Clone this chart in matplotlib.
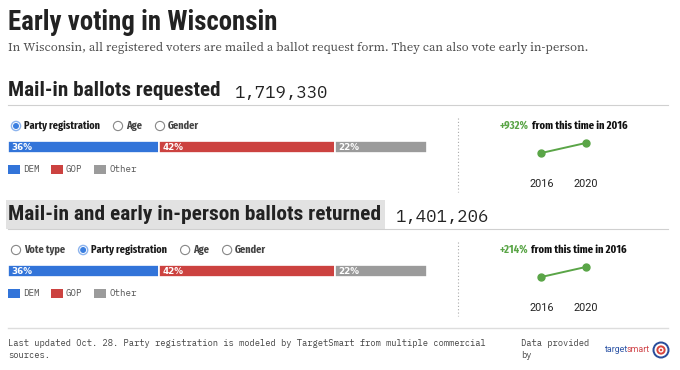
import matplotlib
matplotlib.use('Agg')
import matplotlib.pyplot as plt
from matplotlib.patches import Rectangle, Circle

# 数据
parties = ['DEM', 'GOP', 'Other']
party_colors = ['#3274d9', '#cc4240', '#9b9b9b']
requested_share = [36, 42, 22]
returned_share = [36, 42, 22]
requested_total = '1,719,330'
returned_total = '1,401,206'
spark_years = [2016, 2020]
requested_spark = [166600, 1719330]
returned_spark = [446200, 1401206]
requested_change = '+932%'
returned_change = '+214%'
requested_tabs = ['Party registration', 'Age', 'Gender']
returned_tabs = ['Vote type', 'Party registration', 'Age', 'Gender']

COND = ['Roboto Condensed', 'DejaVu Sans']
XCOND = ['Fira Sans Extra Condensed', 'Roboto Condensed', 'DejaVu Sans']
MONO = ['IBM Plex Mono', 'DejaVu Sans Mono']
SERIF = ['Source Serif 4', 'Liberation Serif']
GREEN = '#5aa547'

W, H = 680, 370
fig = plt.figure(figsize=(W / 100, H / 100), dpi=100)
bg = fig.add_axes([0, 0, 1, 1])
bg.set_xlim(0, W)
bg.set_ylim(H, 0)
bg.axis('off')
renderer = fig.canvas.get_renderer()


def fax(x0, y0, x1, y1):
    return fig.add_axes([x0 / W, 1 - y1 / H, (x1 - x0) / W, (y1 - y0) / H])


def extent(t):
    return t.get_window_extent(renderer).transformed(bg.transData.inverted())


def fit(t, width):
    # 按目标像素宽度调整字号
    bb = extent(t)
    t.set_fontsize(t.get_fontsize() * width / (bb.x1 - bb.x0))
    return t


def fitted_size(text, width, **kw):
    t = fit(bg.text(0, 0, text, size=10, **kw), width)
    s = t.get_fontsize()
    t.remove()
    return s


# 标题
fit(bg.text(8, 22, 'Early voting in Wisconsin', family=COND, weight='bold', size=20,
            color='#222222', va='center'), 270)
fit(bg.text(8, 48, 'In Wisconsin, all registered voters are mailed a ballot request form. '
            'They can also vote early in-person.', family=SERIF, size=9.8,
            color='#555555', va='center'), 577)

RADIO_SIZE = fitted_size('Party registration', 76, family=XCOND, weight='bold')
SPARK_SIZE = fitted_size('+932% from this time in 2016', 127, family=XCOND, weight='bold')


def radio(x, y, label, selected):
    if selected:
        bg.add_patch(Circle((x, y), 4.6, fc='white', ec='#8db4ee', lw=1.0))
        bg.add_patch(Circle((x, y), 3.0, fc='#3b7fe0', ec='none'))
    else:
        bg.add_patch(Circle((x, y), 4.6, fc='white', ec='#888888', lw=0.8))
    t = bg.text(x + 8, y, label, family=XCOND, weight='bold', size=RADIO_SIZE,
                color='#1a1a1a' if selected else '#444444', va='center')
    return t


def section(y0, heading, total, tabs, sel, shares, spark, change, highlight):
    # 标题栏
    t = bg.text(8, y0, heading, family=COND, weight='bold', size=15, color='#222222',
                va='center')
    fit(t, 212 if not highlight else 372)
    bb = extent(t)
    if highlight:
        bg.add_patch(Rectangle((6, y0 - 15), bb.x1 - 2, 29, fc='#e2e2e2', ec='none', zorder=0))
    n = bg.text(bb.x1 + 14, y0 + 1.5, total, family=MONO, size=12.5, color='#222222',
                va='center')
    fit(n, 93)
    bg.plot([8, 668], [y0 + 14, y0 + 14], color='#d0d0d0', lw=0.8)

    # 单选按钮
    x = 16
    for lab in tabs:
        tt = radio(x, y0 + 35, lab, lab == sel)
        x = extent(tt).x1 + 18

    # 堆叠条
    ax = fax(8, y0 + 50, 427, y0 + 62)
    left = 0
    for p, v, c in zip(parties, shares, party_colors):
        ax.barh(0, v, left=left, height=1, color=c, edgecolor='white', linewidth=1.2)
        ax.text(left + 0.9, 0, f'{v}%', color='white', weight='bold', size=6.3,
                va='center', family='DejaVu Sans')
        left += v
    ax.set_xlim(0, sum(shares))
    ax.set_ylim(-0.5, 0.5)
    ax.axis('off')

    # 图例
    lx = 8
    for p, c in zip(parties, party_colors):
        bg.add_patch(Rectangle((lx, y0 + 74), 12, 9, fc=c, ec='none'))
        bg.text(lx + 15, y0 + 79, p, family=MONO, size=6.6, color='#555555', va='center')
        lx += 43

    # 虚线分隔
    bg.plot([458, 458], [y0 + 27, y0 + 101], color='#aaaaaa', lw=0.8, ls=(0, (1, 2)))

    # 增长率
    g = bg.text(500, y0 + 35, change, family=XCOND, weight='bold', size=SPARK_SIZE,
                color=GREEN, ha='left', va='center')
    gx = extent(g).x1
    bg.text(gx + 2.5, y0 + 35, 'from this time in 2016', family=XCOND, weight='bold',
            size=SPARK_SIZE, color='#111111', ha='left', va='center')

    # 迷你折线
    sx = fax(519, y0 + 44, 608, y0 + 70)
    pad = 0.8 * (spark[1] - spark[0])
    sx.plot(spark_years, spark, color=GREEN, lw=1.4, marker='o', ms=5)
    sx.set_xlim(2014, 2022)
    sx.set_ylim(spark[0] - pad, spark[1] + pad)
    sx.set_xticks(spark_years)
    sx.set_xticklabels([str(y) for y in spark_years], family='Roboto', size=7.8,
                       color='#222222')
    sx.tick_params(axis='x', length=0, pad=13)
    sx.set_yticks([])
    for s in sx.spines.values():
        s.set_visible(False)
    sx.patch.set_alpha(0)


section(91, 'Mail-in ballots requested', requested_total, requested_tabs,
        'Party registration', requested_share, requested_spark, requested_change, False)
section(215, 'Mail-in and early in-person ballots returned', returned_total, returned_tabs,
        'Party registration', returned_share, returned_spark, returned_change, True)

# 页脚
bg.plot([8, 668], [328, 328], color='#dddddd', lw=1.0)
f = bg.text(8, 343, 'Last updated Oct. 28. Party registration is modeled by TargetSmart from '
            'multiple commercial', family=MONO, size=6.4, color='#444444', va='center')
fit(f, 482)
fs = f.get_fontsize()
bg.text(8, 355, 'sources.', family=MONO, size=fs, color='#444444', va='center')
bg.text(521, 343, 'Data provided', family=MONO, size=fs, color='#444444', va='center')
bg.text(521, 355, 'by', family=MONO, size=fs, color='#444444', va='center')
lt = bg.text(605, 350, 'target', family='Roboto', size=6.4, color='#2f56a6', va='center')
bg.text(extent(lt).x1 - 1.5, 350, 'smart', family='Roboto', size=6.4, color='#d0454a',
        va='center')
for r, c in [(8.5, '#2a4d9b'), (6.5, 'white'), (4.6, '#d9453d'), (2.6, 'white'), (1.2, '#d9453d')]:
    bg.add_patch(Circle((661, 350), r, fc=c, ec='none'))

fig.savefig('out.png', dpi=100)
